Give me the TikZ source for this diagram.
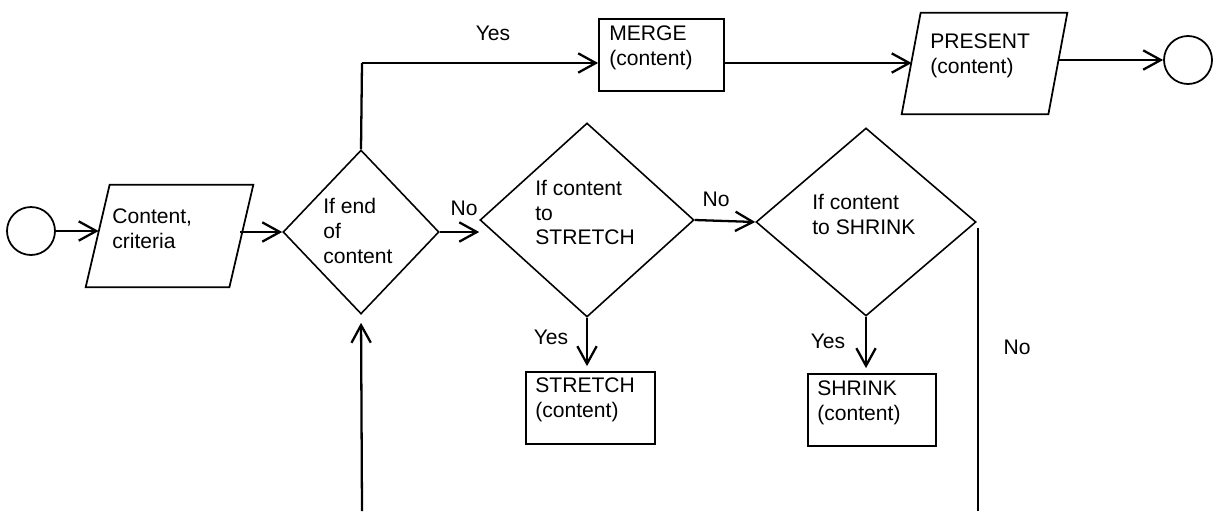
\documentclass[tikz,border=0pt]{standalone}
\usepackage{fontspec}
\setmainfont{Liberation Sans}
\usetikzlibrary{shapes.geometric,arrows.meta}
\newcommand{\pxu}{0.02cm}
\begin{document}
\begin{tikzpicture}[x=0.02cm,y=-0.02cm,
  every node/.style={font=\fontsize{12}{14.2}\selectfont},
  conn/.style={line width=1.3pt},
  arr/.style={conn,-{Straight Barb[length=10pt,width=11pt,line width=1.3pt]}},
  dec/.style={draw,diamond,inner sep=0pt,line width=0.9pt},
  proc/.style={draw,rectangle,inner sep=0pt,line width=1pt},
  iobox/.style={rectangle,inner sep=0pt},
  ioline/.style={line width=1pt,line join=miter},
  term/.style={draw,circle,inner sep=0pt,minimum size=48*\pxu,line width=1pt},
  txt/.style={inner sep=0pt,align=left,anchor=west},
  lbl/.style={inner sep=0pt}]
\useasboundingbox (0,0) rectangle (1229,511);

% shapes
\node[term] (start) at (31,231) {};
\node[iobox, minimum width=167*\pxu, minimum height=102*\pxu] (input) at (169.5,236) {};
\draw[ioline] (input.south west) -- ([xshift=-24*\pxu]input.south east)
  -- (input.north east) -- ([xshift=24*\pxu]input.north west) -- cycle;
\node[dec, minimum width=156*\pxu, minimum height=164*\pxu] (d1) at (361,232) {};
\node[dec, minimum width=214*\pxu, minimum height=194*\pxu] (d2) at (587,220) {};
\node[dec, minimum width=220*\pxu, minimum height=188*\pxu] (d3) at (866,222) {};
\node[proc, minimum width=125*\pxu, minimum height=72*\pxu] (merge) at (661.5,55) {};
\node[iobox, minimum width=165*\pxu, minimum height=101*\pxu] (present) at (984.5,63.5) {};
\draw[ioline] (present.south west) -- ([xshift=-19*\pxu]present.south east)
  -- (present.north east) -- ([xshift=19*\pxu]present.north west) -- cycle;
\node[term] (end) at (1188,60) {};
\node[proc, minimum width=129*\pxu, minimum height=72*\pxu] (stretch) at (590.5,408) {};
\node[proc, minimum width=128*\pxu, minimum height=72*\pxu] (shrink) at (872,410) {};

% texts inside shapes
\node[txt] (inputtxt) at (112,228.5) {Content,\\criteria};
\node[txt] (d1txt) at (323,231) {If end\\of\\content};
\node[txt] (d2txt) at (535,212.5) {If content\\to\\STRETCH};
\node[txt] (d3txt) at (812,214) {If content\\to SHRINK};
\node[txt] (mergetxt) at (609,48) {MERGE\\(content)};
\node[txt] (presenttxt) at (930,55.5) {PRESENT\\(content)};
\node[txt] (stretchtxt) at (535,400) {STRETCH\\(content)};
\node[txt] (shrinktxt) at (817,402.5) {SHRINK\\(content)};

% connector labels
\node[lbl] (yes1) at (493,33) {Yes};
\node[lbl] (no1) at (464,208) {No};
\node[lbl] (no2) at (716,199) {No};
\node[lbl] (yes2) at (551,337) {Yes};
\node[lbl] (yes3) at (828,341) {Yes};
\node[lbl] (no3) at (1017,347) {No};

% helper coordinates
\coordinate (yesturn) at (362,63);
\coordinate (bottomL) at (362,511);
\coordinate (rtop) at (978,228);
\coordinate (bottomR) at (978,511);

% connectors
\draw[arr] (start) -- ([xshift=13*\pxu]start -| input.west);
\draw[arr] ([xshift=-13*\pxu]d1.west -| input.east) -- (d1.west);
\draw[conn] (d1.north) -- (yesturn);
\draw[arr] (yesturn) -- (yesturn -| merge.west);
\draw[arr] (merge.east |- yesturn) -- ([xshift=10*\pxu]yesturn -| present.west);
\draw[arr] ([xshift=-9*\pxu]end -| present.east) -- (end);
\draw[arr] (d1.east) -- (d1.east -| d2.west);
\draw[arr] (d2.east) -- (d3.west);
\draw[conn] (rtop) -- (bottomR);
\draw[arr, shorten >=8*\pxu] (bottomL) -- (d1.south);
\draw[arr, shorten >=5*\pxu] (d2.south) -- (d2.south |- stretch.north);
\draw[arr, shorten >=5*\pxu] (d3.south) -- (d3.south |- shrink.north);
\end{tikzpicture}
\end{document}
